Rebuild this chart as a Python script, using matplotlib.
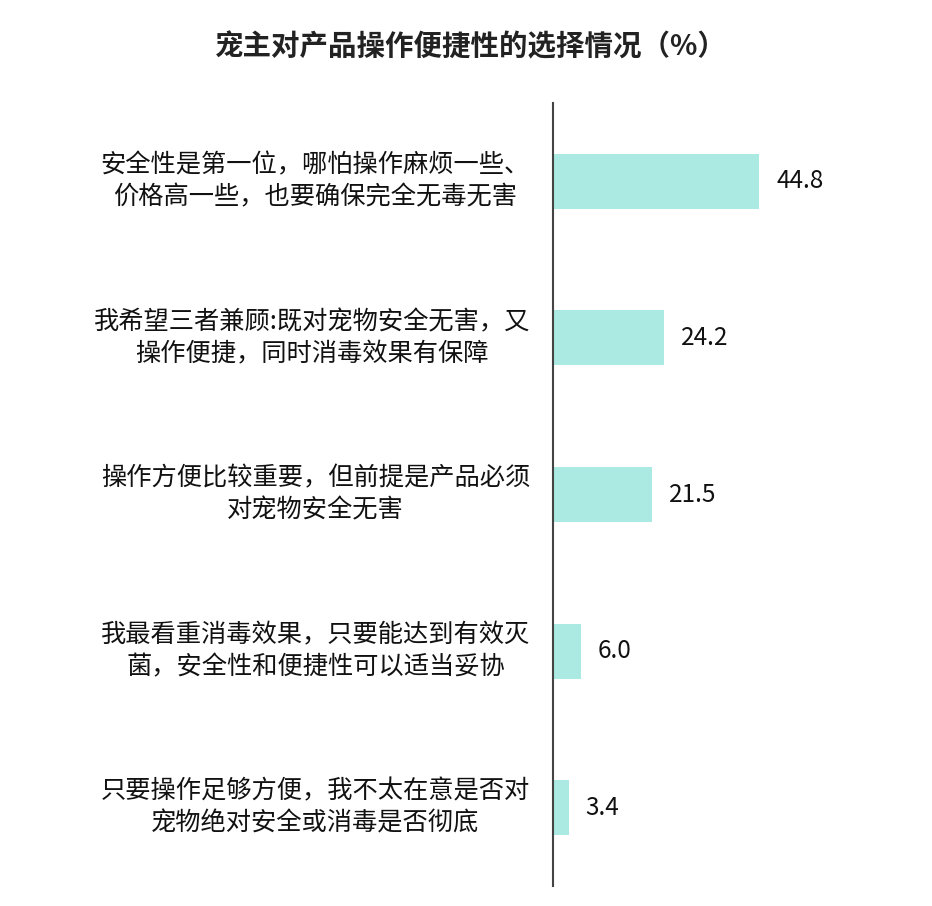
import matplotlib
matplotlib.use("Agg")
import matplotlib.pyplot as plt

plt.rcParams['font.family'] = ['Noto Sans CJK SC', 'DejaVu Sans']

title = "宠主对产品操作便捷性的选择情况（%）"
categories = [
    "安全性是第一位，哪怕操作麻烦一些、\n价格高一些，也要确保完全无毒无害",
    "我希望三者兼顾:既对宠物安全无害，又\n操作便捷，同时消毒效果有保障",
    "操作方便比较重要，但前提是产品必须\n对宠物安全无害",
    "我最看重消毒效果，只要能达到有效灭\n菌，安全性和便捷性可以适当妥协",
    "只要操作足够方便，我不太在意是否对\n宠物绝对安全或消毒是否彻底",
]
values = [44.8, 24.2, 21.5, 6.0, 3.4]
value_labels = ["44.8", "24.2", "21.5", "6.0", "3.4"]

W, H = 932, 906
fig = plt.figure(figsize=(W / 100, H / 100), dpi=100)
left = 553 / W
right = (553 + 75 * 4.6) / W
top = 1 - 103 / H
bottom = 1 - 886 / H
ax = fig.add_axes([left, bottom, right - left, top - bottom])

ypos = list(range(len(values)))
ax.barh(ypos, values, height=0.35, color="#ABE9E3", edgecolor="none", zorder=2)
ax.set_xlim(0, 75)
ax.set_ylim(4.5, -0.5)

for s in ["top", "right", "bottom"]:
    ax.spines[s].set_visible(False)
ax.spines["left"].set_color("#444444")
ax.spines["left"].set_linewidth(1.5)
ax.spines["left"].set_zorder(3)
ax.set_xticks([])
ax.set_yticks([])

px = 72 / 100
for i, (lab, v, vl) in enumerate(zip(categories, values, value_labels)):
    ax.annotate(lab, xy=(0, i), xytext=(-23 * px, 0), textcoords="offset points",
                ha="right", va="center", multialignment="center",
                fontsize=18.2, linespacing=1.3, color="#111111")
    ax.annotate(vl, xy=(v, i), xytext=(17 * px, 0), textcoords="offset points",
                ha="left", va="center", fontsize=17.5, color="#111111")

fig.text(471 / W, 1 - 47 / H, title, ha="center", va="center",
         fontsize=20.5, fontweight="bold", color="#222222")

fig.savefig("out.png", dpi=100)
